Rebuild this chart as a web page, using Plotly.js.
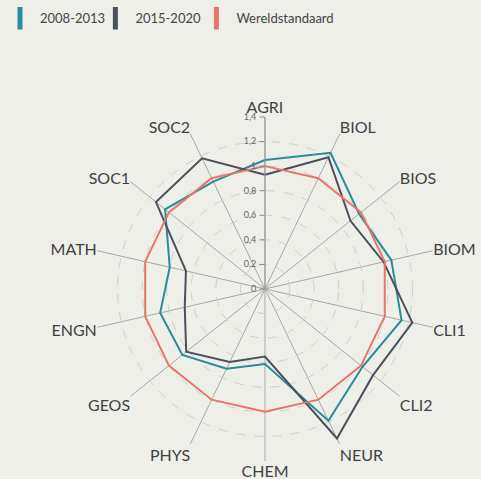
<!DOCTYPE html>
<html>
<head>
<meta charset="utf-8">
<script src="https://cdn.plot.ly/plotly-3.0.1.min.js"></script>
<style>
  html, body { margin: 0; padding: 0; background: #efefea; }
  #chart { width: 481px; height: 479px; }
</style>
</head>
<body>
<div id="chart"></div>
<script>
// Categories (clockwise from top)
const categories = ['AGRI','BIOL','BIOS','BIOM','CLI1','CLI2','NEUR','CHEM','PHYS','GEOS','ENGN','MATH','SOC1','SOC2'];
// Series values
const series2008_2013 = [1.05, 1.23, 0.98, 1.055, 1.14, 1.015, 1.19, 0.61, 0.72, 0.86, 0.875, 0.795, 1.04, 0.97];
const series2015_2020 = [0.93, 1.19, 0.89, 0.99, 1.23, 1.125, 1.35, 0.55, 0.66, 0.82, 0.67, 0.66, 1.135, 1.18];
const wereldstandaard = [1, 1, 1, 1, 1, 1, 1, 1, 1, 1, 1, 1, 1, 1];
// Series names
const seriesNames = ['2008-2013', '2015-2020', 'Wereldstandaard'];
// Radial tick values / labels
const radialTicks = [0, 0.2, 0.4, 0.6, 0.8, 1, 1.2, 1.4];
const radialTickLabels = ['0', '0,2', '0,4', '0,6', '0,8', '1', '1,2', '1,4'];

const colors = ['#2a8b9c', '#4b505e', '#e8756c'];
const allSeries = [series2008_2013, series2015_2020, wereldstandaard];
const legendIds = ['legend', 'legend2', 'legend3'];

function closed(arr) { return arr.concat([arr[0]]); }

const traces = [];
allSeries.forEach((vals, i) => {
  traces.push({
    type: 'scatterpolar',
    mode: 'lines',
    r: closed(vals),
    theta: closed(categories),
    name: seriesNames[i],
    legendgroup: 'g' + i,
    showlegend: false,
    line: { color: colors[i], width: 2 },
    hoverinfo: 'skip'
  });
});
// Legend entries with rectangular swatches
seriesNames.forEach((nm, i) => {
  traces.push({
    type: 'scatterpolar',
    mode: 'markers',
    r: [null],
    theta: [categories[0]],
    name: nm,
    legend: legendIds[i],
    legendgroup: 'g' + i,
    showlegend: true,
    marker: { symbol: 'line-ns-open', size: 16, color: colors[i], line: { color: colors[i], width: 5 } }
  });
});

const legendX = [0.0, 0.1983, 0.4083];
function legendCfg(x) {
  return {
    orientation: 'h',
    x: x, xanchor: 'left',
    y: 0.993, yanchor: 'top',
    font: { size: 13, color: '#444444', family: 'Lato, "Open Sans", sans-serif' },
    bgcolor: 'rgba(0,0,0,0)'
  };
}

const layout = {
  width: 481,
  height: 479,
  paper_bgcolor: '#efefea',
  plot_bgcolor: '#efefea',
  margin: { l: 0, r: 0, t: 0, b: 0 },
  separators: ', ',
  font: { family: 'Lato, "Open Sans", sans-serif', color: '#444444' },
  showlegend: true,
  legend: legendCfg(legendX[0]),
  legend2: legendCfg(legendX[1]),
  legend3: legendCfg(legendX[2]),
  polar: {
    domain: { x: [0.1933, 0.9085], y: [0.0376, 0.7558] },
    bgcolor: '#efefea',
    angularaxis: {
      type: 'category',
      categoryorder: 'array',
      categoryarray: categories,
      direction: 'clockwise',
      rotation: 90,
      showline: false,
      showgrid: true,
      gridcolor: '#a8a8a4',
      gridwidth: 1,
      ticks: '',
      tickfont: { size: 16, color: '#3f3f3f', family: 'Lato, "Open Sans", sans-serif' }
    },
    radialaxis: {
      range: [0, 1.4],
      angle: 90,
      side: 'counterclockwise',
      tickmode: 'array',
      tickvals: radialTicks,
      ticktext: radialTickLabels,
      ticks: 'outside',
      ticklen: 5,
      tickcolor: '#888888',
      tickfont: { size: 9, color: '#666666' },
      showline: true,
      linecolor: '#999999',
      linewidth: 1,
      showgrid: true,
      gridcolor: '#cfcfca',
      griddash: 'dash',
      gridwidth: 1,
      tickangle: 90
    }
  }
};

Plotly.newPlot('chart', traces, layout, { displayModeBar: false, staticPlot: true });
</script>
</body>
</html>
